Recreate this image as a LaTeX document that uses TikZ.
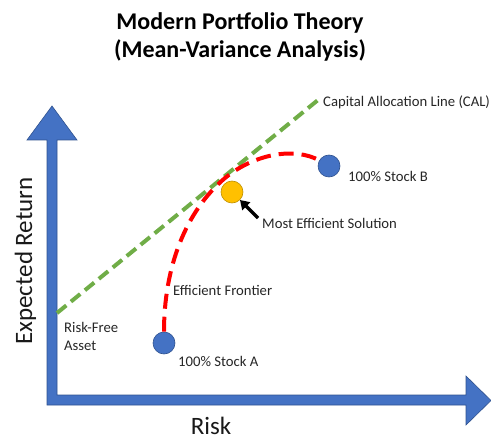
\documentclass[tikz,border=0pt]{standalone}
\usepackage{fontspec}
\setmainfont{Carlito}
\usetikzlibrary{arrows.meta}
\definecolor{axisblue}{HTML}{4472C4}
\definecolor{axisedge}{HTML}{2F528F}
\definecolor{calgreen}{HTML}{70AD47}
\definecolor{goldfill}{HTML}{FFC000}
\definecolor{goldedge}{HTML}{BF9000}
\definecolor{frontred}{HTML}{FF0000}
\begin{document}
\begin{tikzpicture}[x=1bp,y=-1bp,
  small/.style={font=\fontsize{14.7bp}{18bp}\selectfont, inner sep=0pt, text=black!85},
  big/.style={font=\fontsize{25bp}{30bp}\selectfont, inner sep=0pt, text=black!90},
  titletext/.style={font=\fontsize{24bp}{29bp}\selectfont\bfseries, inner sep=0pt},
  asset/.style={circle, minimum size=22bp, inner sep=0pt, fill=axisblue, draw=axisedge, line width=0.6bp},
  optimum/.style={circle, minimum size=22bp, inner sep=0pt, fill=goldfill, draw=goldedge, line width=0.6bp},
  calline/.style={calgreen, line width=4bp, dash pattern=on 12bp off 6bp},
  frontier/.style={frontred, line width=4bp, dash pattern=on 15bp off 8bp}]
\useasboundingbox (0,0) rectangle (491,441);

% title
\node[titletext, anchor=base] (t1) at (240,30) {Modern Portfolio Theory};
\node[titletext, anchor=base] (t2) at (240,58) {(Mean-Variance Analysis)};

% axes as block arrows
\fill[axisblue, draw=axisedge, line width=0.6bp]
  (47,405) -- (47,140) -- (27,140) -- (52,106) -- (77,140) -- (57,140)
  -- (57,395) -- (466,395) -- (466,376) -- (491,400.5) -- (466,425)
  -- (466,405) -- cycle;
\node[big, rotate=90, anchor=base] (ylab) at (32,261) {Expected Return};
\node[big, anchor=base] (xlab) at (211,434) {Risk};

% capital allocation line
\coordinate (rf) at (57,313);
\coordinate (calend) at (318,100);
\draw[calline] (rf) -- (calend);
\node[small, anchor=base west] (callab) at (323,107) {Capital Allocation Line (CAL)};

% portfolios
\node[asset] (stockA) at (164,343) {};
\node[asset] (stockB) at (329,166) {};

% efficient frontier
\draw[frontier] (stockA.north) .. controls (164,268) and (185,212) .. (225,178)
  .. controls (255,153.4) and (295,147) .. (stockB.150);

\node[optimum] (best) at (232,192) {};

% pointer to the optimum
\coordinate (ptail) at (258,218);
\draw[line width=3.5bp, -{Triangle[length=9bp, width=11bp]}] (ptail) -- (best.-45);

% labels
\node[small, anchor=base west] (labB) at (348,182) {100\% Stock B};
\node[small, anchor=base west] (labBest) at (262,229) {Most Efficient Solution};
\node[small, anchor=base west] (labEF) at (173,295) {Efficient Frontier};
\node[small, anchor=base west] (labRF) at (64,332) {Risk-Free};
\node[small, anchor=base west] (labRF2) at (64,350) {Asset};
\node[small, anchor=base west] (labA) at (178,366) {100\% Stock A};
\end{tikzpicture}
\end{document}
